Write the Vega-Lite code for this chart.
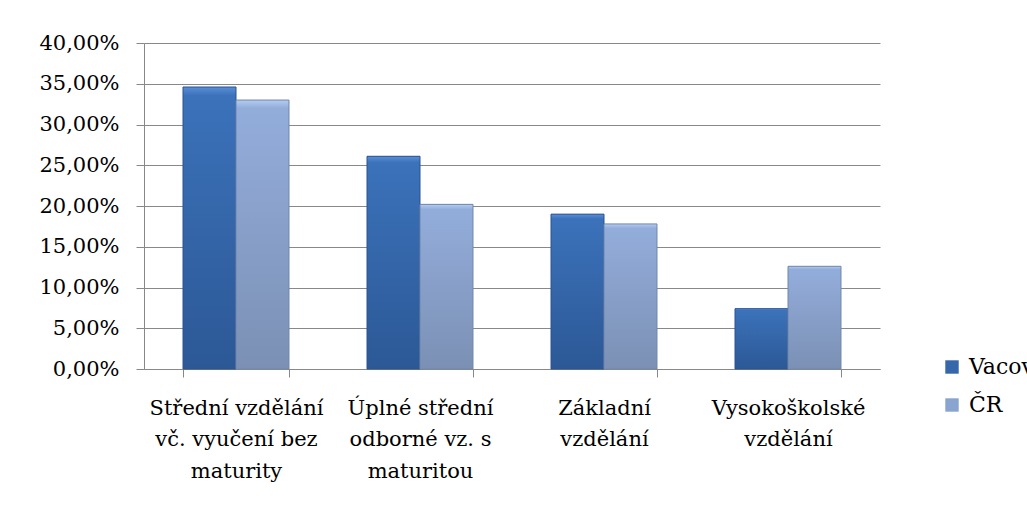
{
  "$schema": "https://vega.github.io/schema/vega-lite/v6.json",
  "width": 736,
  "height": 326,
  "autosize": "none",
  "padding": {"left": 144, "top": 43, "right": 147, "bottom": 138},
  "background": "white",
  "config": {
    "locale": {"number": {"decimal": ",", "thousands": " ", "grouping": [3], "currency": ["", " Kč"]}},
    "view": {"stroke": null},
    "font": "DejaVu Serif"
  },
  "data": {
    "values": [
      {"category": "Střední vzdělání vč. vyučení bez maturity", "series": "Vacov", "value": 0.346},
      {"category": "Střední vzdělání vč. vyučení bez maturity", "series": "ČR", "value": 0.330},
      {"category": "Úplné střední odborné vz. s maturitou", "series": "Vacov", "value": 0.261},
      {"category": "Úplné střední odborné vz. s maturitou", "series": "ČR", "value": 0.202},
      {"category": "Základní vzdělání", "series": "Vacov", "value": 0.190},
      {"category": "Základní vzdělání", "series": "ČR", "value": 0.178},
      {"category": "Vysokoškolské vzdělání", "series": "Vacov", "value": 0.074},
      {"category": "Vysokoškolské vzdělání", "series": "ČR", "value": 0.126}
    ]
  },
  "encoding": {
    "x": {
      "field": "category",
      "type": "nominal",
      "sort": ["Střední vzdělání vč. vyučení bez maturity", "Úplné střední odborné vz. s maturitou", "Základní vzdělání", "Vysokoškolské vzdělání"],
      "scale": {"paddingInner": 0.424, "paddingOuter": 0.212},
      "axis": {
        "title": null,
        "labelAngle": 0,
        "tickBand": "extent",
        "tickSize": 8,
        "tickColor": "#888888",
        "domainColor": "#888888",
        "labelFont": "DejaVu Serif",
        "labelFontSize": 21,
        "labelLineHeight": 31.5,
        "labelPadding": 20,
        "labelColor": "black",
        "labelLimit": 400,
        "labelExpr": "datum.value == 'Střední vzdělání vč. vyučení bez maturity' ? ['Střední vzdělání', 'vč. vyučení bez', 'maturity'] : datum.value == 'Úplné střední odborné vz. s maturitou' ? ['Úplné střední', 'odborné vz. s', 'maturitou'] : datum.value == 'Základní vzdělání' ? ['Základní', 'vzdělání'] : datum.value == 'Vysokoškolské vzdělání' ? ['Vysokoškolské', 'vzdělání'] : ''"
      }
    },
    "xOffset": {"field": "series", "type": "nominal", "sort": ["Vacov", "ČR"]},
    "y": {
      "field": "value",
      "type": "quantitative",
      "scale": {"domain": [0, 0.4]},
      "axis": {
        "title": null,
        "values": [0, 0.05, 0.1, 0.15, 0.2, 0.25, 0.3, 0.35, 0.4],
        "format": ".2%",
        "grid": true,
        "gridColor": "#888888",
        "domainColor": "#888888",
        "tickColor": "#888888",
        "tickSize": 8,
        "labelFont": "DejaVu Serif",
        "labelFontSize": 21,
        "labelPadding": 17,
        "labelColor": "black"
      }
    }
  },
  "layer": [
    {
      "mark": {"type": "bar"},
      "encoding": {
        "color": {
          "field": "series",
          "type": "nominal",
          "scale": {"domain": ["Vacov", "ČR"], "range": ["#3767ab", "#8aa4d0"]},
          "legend": {
            "title": null,
            "orient": "none",
            "legendX": 797,
            "legendY": 313,
            "padding": 0,
            "symbolType": "square",
            "symbolSize": 180,
            "symbolStrokeWidth": 0,
            "labelFont": "DejaVu Serif",
            "labelFontSize": 22,
            "labelColor": "black",
            "labelOffset": 6,
            "rowPadding": 16
          }
        }
      }
    },
    {
      "mark": {"type": "bar", "strokeWidth": 1},
      "encoding": {
        "fill": {
          "condition": {
            "test": "datum.series === 'Vacov'",
            "value": {"gradient": "linear", "x1": 0, "y1": 0, "x2": 0, "y2": 1, "stops": [{"offset": 0, "color": "#5a8fd8"}, {"offset": 0.03, "color": "#3b72ba"}, {"offset": 1, "color": "#2c5896"}]}
          },
          "value": {"gradient": "linear", "x1": 0, "y1": 0, "x2": 0, "y2": 1, "stops": [{"offset": 0, "color": "#b4ccf0"}, {"offset": 0.03, "color": "#93addb"}, {"offset": 1, "color": "#7b90b4"}]}
        },
        "stroke": {
          "condition": {"test": "datum.series === 'Vacov'", "value": "#2b5290"},
          "value": "#7186ab"
        }
      }
    }
  ]
}
